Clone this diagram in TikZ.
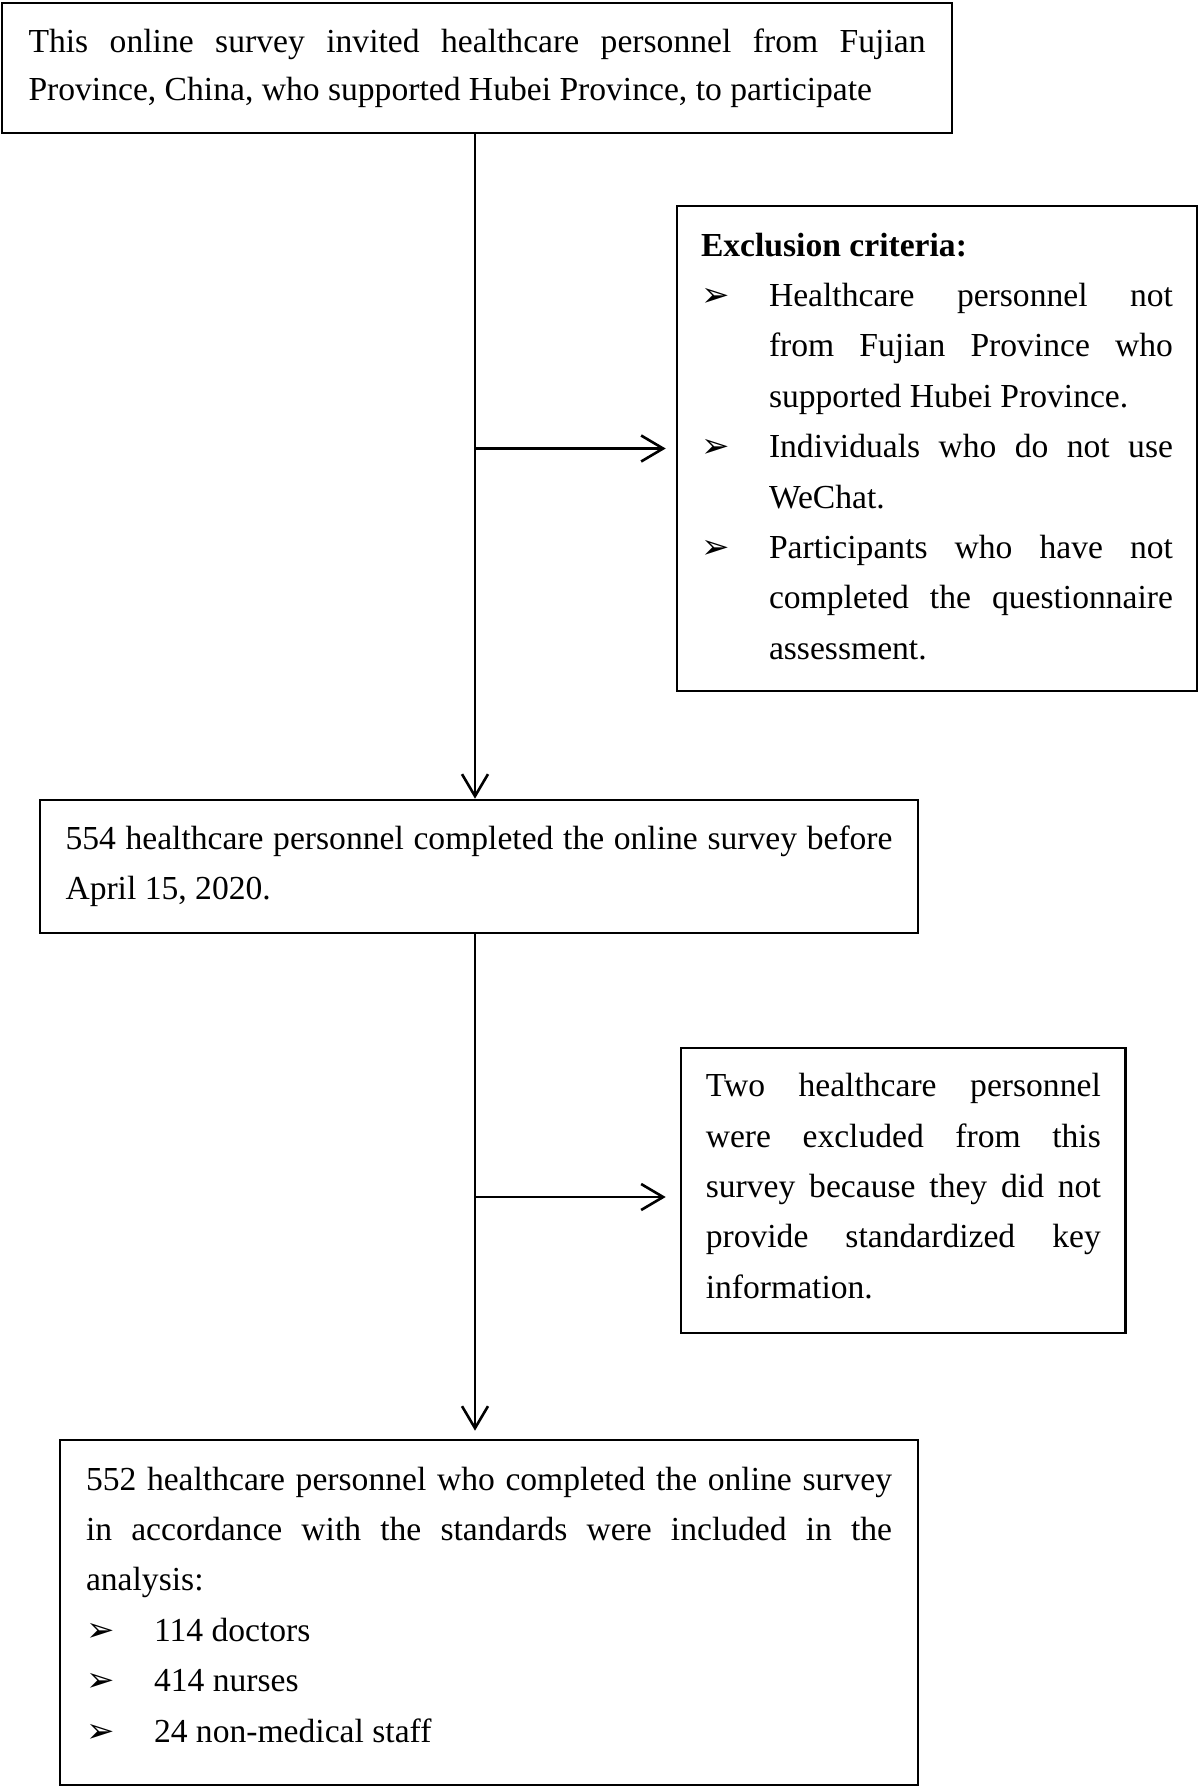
\documentclass[tikz,border=0pt]{standalone}
\usepackage{fontspec}
\setmainfont{Liberation Serif}
\newfontfamily\symfont{DejaVu Sans}
\usetikzlibrary{arrows.meta}
\tolerance=10000
\hbadness=10000
\hyphenpenalty=10000
\exhyphenpenalty=10000
\parindent=0pt
\newcommand{\blt}{\makebox[34pt][l]{{\symfont\fontsize{17pt}{15pt}\selectfont ➢}}}
\newcommand{\bitem}[1]{\par\hangindent=34pt\hangafter=1\noindent\blt #1\par}
\newcommand{\padbot}[1]{\par\vskip#1\hrule height0pt width0pt}
\tikzset{
  box/.style={draw, rectangle, line width=1.3pt, align=justify, inner ysep=0pt,
    font=\fontsize{16.8pt}{25.2pt}\selectfont},
  link/.style={line width=1.3pt, -{Straight Barb[length=11pt,width=13pt]}},
}
\begin{document}
\begin{tikzpicture}[x=0.5pt,y=-0.5pt]
\useasboundingbox (0,0) rectangle (1200,1788);
\node[box, text width=448.5pt, inner xsep=13.25pt, minimum height=65pt,
  font=\fontsize{16.8pt}{24.2pt}\selectfont] (b1) at (477,68)
  {This online survey invited healthcare personnel from Fujian\linebreak Province, China, who supported Hubei Province, to participate};
\node[box, text width=236pt, inner xsep=12pt, minimum height=242.5pt] (ex) at (937,448.5)
  {\textbf{Exclusion criteria:}
   \bitem{Healthcare personnel not\linebreak from Fujian Province who\linebreak supported Hubei Province.}
   \bitem{Individuals who do not use\linebreak WeChat.}
   \bitem{Participants who have not\linebreak completed the questionnaire\linebreak assessment.}\padbot{2.3pt}};
\node[box, text width=413.5pt, inner xsep=12.75pt, minimum height=66.5pt] (b2) at (479,866.5)
  {554 healthcare personnel completed the online survey before\linebreak April 15, 2020.};
\node[box, text width=197.5pt, inner xsep=12.4pt, minimum height=142.5pt] (b3) at (903.3,1190.5)
  {Two healthcare personnel\linebreak were excluded from this\linebreak survey because they did not\linebreak provide standardized key\linebreak information.\padbot{4.5pt}};
\node[box, text width=403pt, inner xsep=13pt, minimum height=172.5pt] (b4) at (489,1612.5)
  {552 healthcare personnel who completed the online survey\linebreak in accordance with the standards were included in the\linebreak analysis:
   \bitem{114 doctors}\bitem{414 nurses}\bitem{24 non-medical staff}\padbot{8pt}};
\coordinate (trunk) at (475,0);
\coordinate (p3) at ([yshift=-3.25pt]b3.west);
\draw[link] (b1.south -| trunk) -- (b2.north -| trunk);
\draw[link, shorten >=4pt] (b2.south -| trunk) -- (b4.north -| trunk);
\draw[link, shorten >=5pt] (ex.west -| trunk) -- (ex.west);
\draw[link, shorten >=7pt] (p3 -| trunk) -- (p3);
\end{tikzpicture}
\end{document}
